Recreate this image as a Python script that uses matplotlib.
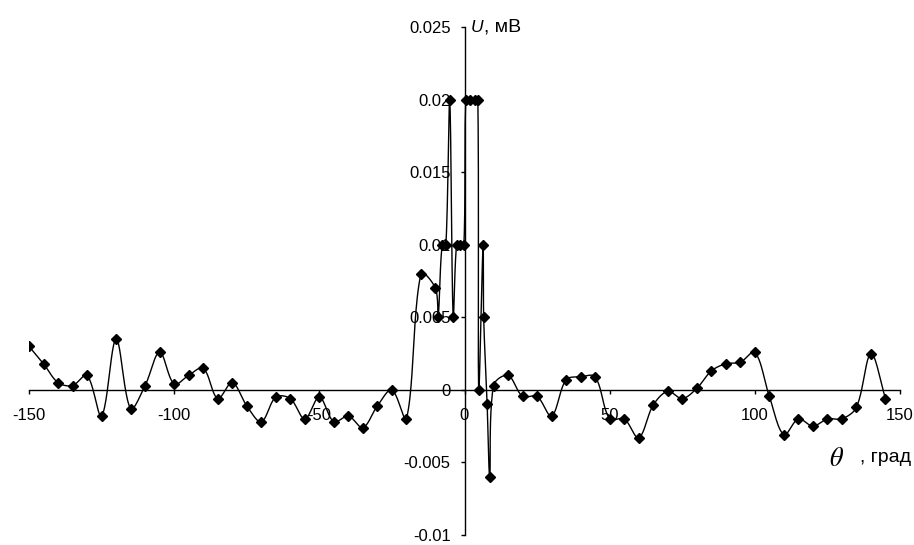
import numpy as np
import matplotlib
matplotlib.use('Agg')
import matplotlib.pyplot as plt

plt.rcParams['font.family'] = ['Liberation Sans', 'DejaVu Sans']
plt.rcParams['mathtext.fontset'] = 'stix'

# angle, degrees
theta = [-150, -145, -140, -135, -130, -125, -120, -115, -110, -105,
         -100, -95, -90, -85, -80, -75, -70, -65, -60, -55,
         -50, -45, -40, -35, -30, -25, -20, -15, -10,
         -9.1, -7.7, -6.4, -5.1, -3.9, -2.75, -1.6, -0.2, 0.45, 1.8,
         3.5, 4.6, 4.9, 6.4, 6.6, 7.8, 8.7,
         10, 15, 20, 25, 30, 35, 40, 45, 50, 55,
         60, 65, 70, 75, 80, 85, 90, 95, 100, 105,
         110, 115, 120, 125, 130, 135, 140, 145]
# signal, mV
u = [0.0030, 0.0018, 0.0005, 0.0003, 0.0010, -0.0018, 0.0035, -0.0013, 0.0003, 0.0026,
     0.0004, 0.0010, 0.0015, -0.0006, 0.0005, -0.0011, -0.0022, -0.0005, -0.0006, -0.0020,
     -0.0005, -0.0022, -0.0018, -0.0026, -0.0011, 0.0, -0.0020, 0.0080, 0.0070,
     0.005, 0.010, 0.010, 0.020, 0.005, 0.010, 0.010, 0.010, 0.020, 0.020,
     0.020, 0.020, 0.0, 0.010, 0.005, -0.001, -0.006,
     0.0003, 0.0010, -0.00045, -0.00045, -0.0018, 0.0007, 0.0009, 0.0009, -0.0020, -0.0020,
     -0.0033, -0.00105, -0.0001, -0.0006, 0.0001, 0.0013, 0.0018, 0.0019, 0.0026, -0.00045,
     -0.0031, -0.0020, -0.0025, -0.0020, -0.0020, -0.0012, 0.0025, -0.0006]

x_ticks = [-150, -100, -50, 0, 50, 100, 150]
y_ticks = [-0.01, -0.005, 0, 0.005, 0.01, 0.015, 0.02, 0.025]
y_tick_labels = ['-0.01', '-0.005', '0', '0.005', '0.01', '0.015', '0.02', '0.025']

XLIM = (-150, 150)
YLIM = (-0.01, 0.025)


def smooth_curve(xs, ys, sx, sy, n=24):
    """Smoothed line like a spreadsheet chart: Bezier handles weighted by
    neighbouring segment lengths (screen-scaled), so short hops don't overshoot."""
    pts = np.column_stack([np.asarray(xs, float) * sx, np.asarray(ys, float) * sy])
    pts = np.vstack([pts[0], pts, pts[-1]])
    out = []
    t = np.linspace(0, 1, n)[:, None]
    for i in range(1, len(pts) - 2):
        p0, p1, p2, p3 = pts[i - 1], pts[i], pts[i + 1], pts[i + 2]
        d01 = np.hypot(*(p1 - p0))
        d12 = np.hypot(*(p2 - p1))
        d23 = np.hypot(*(p3 - p2))
        w1 = d12 / (d01 + d12) if d01 + d12 > 0 else 0
        w2 = d12 / (d12 + d23) if d12 + d23 > 0 else 0
        c1 = p1 + (p2 - p0) * w1 / 3.0
        c2 = p2 - (p3 - p1) * w2 / 3.0
        seg = ((1 - t) ** 3) * p1 + 3 * ((1 - t) ** 2) * t * c1 \
            + 3 * (1 - t) * t ** 2 * c2 + t ** 3 * p2
        out.append(seg)
    out = np.vstack(out)
    return out[:, 0] / sx, out[:, 1] / sy


fig = plt.figure(figsize=(9.14, 5.45), dpi=100)
ax = fig.add_axes([29 / 914, 1 - 535 / 545, 871 / 914, 508 / 545])

# scale factors to axes pixels so smoothing behaves like on screen
sx = 871 / (XLIM[1] - XLIM[0])
sy = 508 / (YLIM[1] - YLIM[0])
cx, cy = smooth_curve(theta, u, sx, sy)
ax.plot(cx, cy, color='black', linewidth=1.0, zorder=3)
ax.plot(theta, u, linestyle='none', marker='D', markersize=5.2,
        color='black', zorder=4)

ax.set_xlim(*XLIM)
ax.set_ylim(*YLIM)

for side in ['top', 'right']:
    ax.spines[side].set_visible(False)
ax.spines['left'].set_position(('data', 0))
ax.spines['bottom'].set_position(('data', 0))
ax.spines['left'].set_linewidth(1.0)
ax.spines['bottom'].set_linewidth(1.0)

ax.set_xticks(x_ticks)
ax.set_xticklabels([str(v) for v in x_ticks])
ax.set_yticks(y_ticks)
ax.set_yticklabels(y_tick_labels)
ax.tick_params(axis='both', direction='out', length=3, width=1.0,
               labelsize=12, colors='black')
ax.tick_params(axis='y', pad=7.0)
ax.tick_params(axis='x', pad=10)
ax.patch.set_visible(False)

# axis titles
ax.annotate('U', xy=(0, 0.025), xytext=(6, 0), textcoords='offset pixels',
            ha='left', va='center', fontsize=12.5, style='italic')
ax.annotate(', мВ', xy=(0, 0.025), xytext=(20, 0), textcoords='offset pixels',
            ha='left', va='center', fontsize=14)
ax.annotate(r'$\theta$', xy=(150, 0), xytext=(-71, -76), textcoords='offset pixels',
            ha='left', va='baseline', fontsize=19)
ax.annotate(', град', xy=(150, 0), xytext=(11, -72), textcoords='offset pixels',
            ha='right', va='baseline', fontsize=14)

fig.savefig('out.png', dpi=100)
